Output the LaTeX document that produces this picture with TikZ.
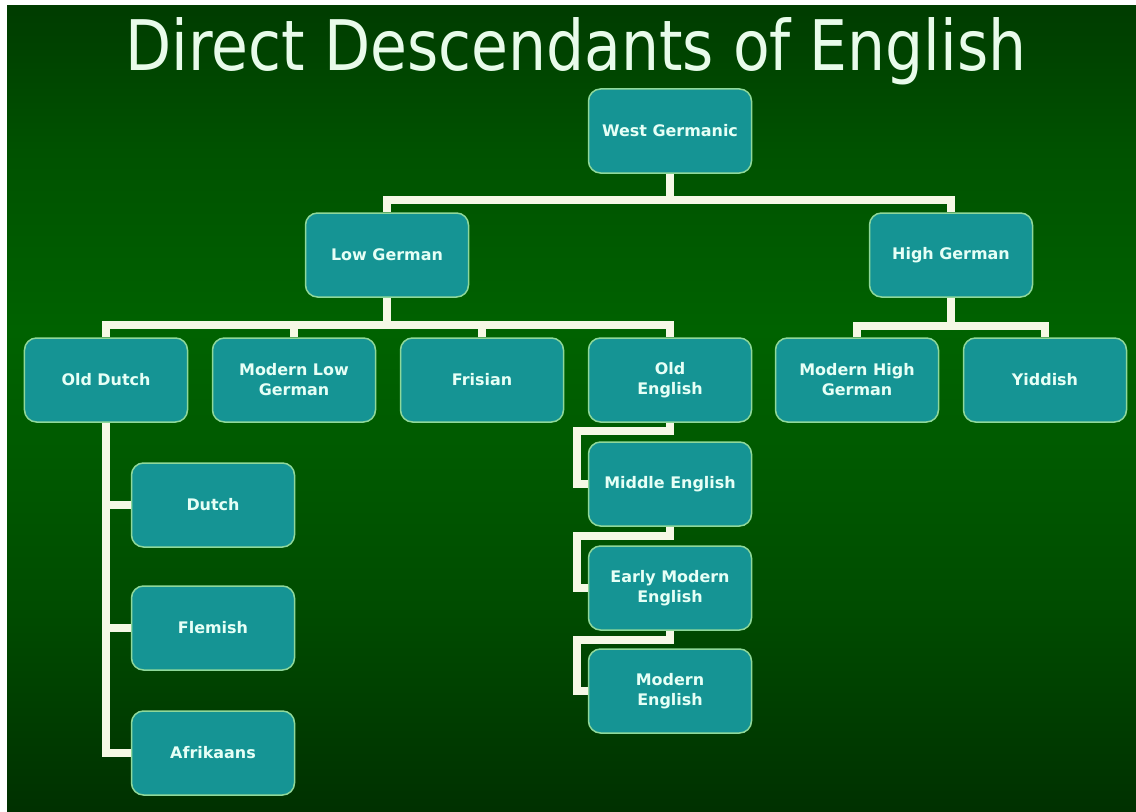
\documentclass[tikz,border=0pt]{standalone}
\usepackage{fontspec}
\setmainfont{DejaVu Sans}
\newfontfamily\titlefont[FakeStretch=0.86]{DejaVu Sans}
\usepackage{tikz}
\usetikzlibrary{calc,positioning}
\definecolor{bgtop}{HTML}{003C00}
\definecolor{bgup}{HTML}{005200}
\definecolor{bgmid}{HTML}{006200}
\definecolor{bglow}{HTML}{005A00}
\definecolor{bgdeep}{HTML}{004C00}
\definecolor{bgbot}{HTML}{003000}
\definecolor{boxfill}{HTML}{159494}
\definecolor{boxline}{HTML}{8FD89A}
\definecolor{boxtext}{HTML}{E6FFF6}
\definecolor{linkcol}{HTML}{F6F8E6}
\definecolor{titlecol}{HTML}{E8FBEA}
\pgfdeclareverticalshading{slidebg}{100bp}{color(0bp)=(bgbot); color(25bp)=(bgbot); color(38bp)=(bgdeep); color(47.5bp)=(bglow); color(55bp)=(bgmid); color(66bp)=(bgup); color(75bp)=(bgtop); color(100bp)=(bgtop)}
\tikzstyle{langbox} = [rectangle, rounded corners=12bp, minimum width=163bp, minimum height=84bp, draw=boxline, line width=1.5bp, fill=boxfill, text=boxtext, align=center, font=\bfseries\fontsize{16}{20}\selectfont]
\tikzstyle{branch}  = [draw=linkcol, line width=8bp]

\begin{document}
\begin{tikzpicture}[x=1bp,y=-1bp]
        \useasboundingbox (0,0) rectangle (1136,812);
        \fill[white] (-5,-5) rectangle (1141,817);
        \shade[shading=slidebg] (7,6) rectangle (1141,817);

        \node[anchor=base, text=titlecol, font=\titlefont\fontsize{70}{84}\selectfont] (title) at (576,71) {Direct Descendants of English};

        % top levels
        \node[langbox] (wg)  at (670,131) {West Germanic};
        \node[langbox] (lg)  at (387,255) {Low German};
        \node[langbox] (hg)  at (951,255) {High German};

        % third row
        \node[langbox] (od)  at (106,380) {Old Dutch};
        \node[langbox] (mlg) at (294,380) {Modern Low\\German};
        \node[langbox] (fr)  at (482,380) {Frisian};
        \node[langbox] (oe)  at (670,380) {Old\\English};
        \node[langbox] (mhg) at (857,380) {Modern High\\German};
        \node[langbox] (yi)  at (1045,380) {Yiddish};

        % under Old Dutch
        \node[langbox] (du)  at (213,505) {Dutch};
        \node[langbox] (fl)  at (213,628) {Flemish};
        \node[langbox] (af)  at (213,753) {Afrikaans};

        % under Old English
        \node[langbox] (me)  at (670,484) {Middle English};
        \node[langbox] (em)  at (670,588) {Early Modern\\English};
        \node[langbox] (mo)  at (670,691) {Modern\\English};

        \draw[branch] (wg.south) -- ++(0,26) -| (lg.north);
        \draw[branch] (wg.south) -- ++(0,26) -| (hg.north);

        \foreach \kid in {od,mlg,fr,oe}
            \draw[branch] (lg.south) -- ++(0,27) -| (\kid.north);
        \foreach \kid in {mhg,yi}
            \draw[branch] (hg.south) -- ++(0,28) -| (\kid.north);

        \foreach \kid in {du,fl,af}
            \draw[branch] (od.south) |- (\kid.west);

        \draw[branch] (oe.south) -- ++(0,8) -- ++(-93,0) |- (me.west);
        \draw[branch] (me.south) -- ++(0,9) -- ++(-93,0) |- (em.west);
        \draw[branch] (em.south) -- ++(0,9) -- ++(-93,0) |- (mo.west);
    \end{tikzpicture}
\end{document}
